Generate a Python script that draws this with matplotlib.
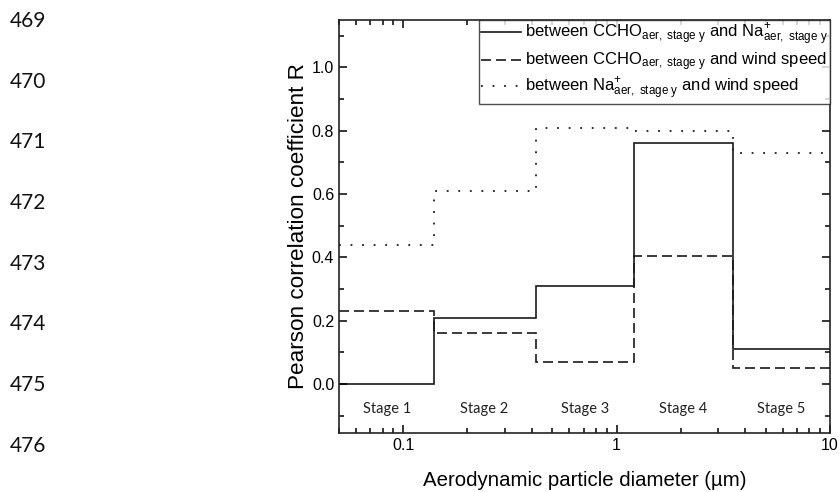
import numpy as np
import matplotlib
matplotlib.use('Agg')
import matplotlib.pyplot as plt
from matplotlib.ticker import MultipleLocator, FixedLocator, NullFormatter

plt.rcParams['font.family'] = ['Liberation Sans', 'DejaVu Sans']
plt.rcParams['mathtext.fontset'] = 'custom'
plt.rcParams['mathtext.rm'] = 'Liberation Sans'
plt.rcParams['mathtext.it'] = 'Liberation Sans:italic'

# impactor stage edges (um)
edges = [0.05, 0.14, 0.42, 1.2, 3.5, 10]
stages = ['Stage 1', 'Stage 2', 'Stage 3', 'Stage 4', 'Stage 5']
stage_centers = [0.084, 0.24, 0.71, 2.05, 5.9]

r_ccho_na = [0.0, 0.21, 0.31, 0.76, 0.11]
r_ccho_wind = [0.23, 0.16, 0.07, 0.405, 0.05]
r_na_wind = [0.44, 0.61, 0.81, 0.80, 0.73]

line_numbers = ['469', '470', '471', '472', '473', '474', '475', '476']

fig = plt.figure(figsize=(8.4, 4.92), dpi=100)
ax = fig.add_axes([0.4036, 0.1199, 0.5845, 0.8394])

col = '#1a1a1a'
ax.stairs(r_ccho_na, edges, baseline=None, color=col, lw=1.2, ls='-',
          label=r'between CCHO$_{\mathrm{aer,\ stage\ y}}$ and Na$^{+}_{\mathrm{aer,\ stage\ y}}$')
ax.stairs(r_ccho_wind, edges, baseline=None, color=col, lw=1.2, ls=(0, (6, 3)),
          label=r'between CCHO$_{\mathrm{aer,\ stage\ y}}$ and wind speed')
ax.stairs(r_na_wind, edges, baseline=None, color=col, lw=1.3, ls=(0, (1, 5.4)),
          label=r'between Na$^{+}_{\mathrm{aer,\ stage\ y}}$ and wind speed')

for name, xc in zip(stages, stage_centers):
    ax.text(xc, -0.08, name, ha='center', va='center', fontsize=10.5,
            family='Lato', color='#222222')

ax.set_xscale('log')
ax.set_xlim(0.05, 10)
ax.set_ylim(-0.155, 1.15)
ax.set_xticks([0.1, 1, 10])
ax.set_xticklabels(['0.1', '1', '10'])
ax.xaxis.set_minor_locator(FixedLocator([0.05, 0.06, 0.07, 0.08, 0.09, 0.2, 0.3, 0.4, 0.5,
                                         0.6, 0.7, 0.8, 0.9, 2, 3, 4, 5, 6, 7, 8, 9]))
ax.xaxis.set_minor_formatter(NullFormatter())
ax.set_yticks([0.0, 0.2, 0.4, 0.6, 0.8, 1.0])
ax.yaxis.set_minor_locator(MultipleLocator(0.1))
ax.tick_params(which='both', direction='in', top=True, right=True, labelsize=11.5, width=1.1)
ax.tick_params(which='major', length=6)
ax.tick_params(which='minor', length=3.5)
for s in ax.spines.values():
    s.set_linewidth(1.2)
    s.set_color('#222222')

ax.set_xlabel('Aerodynamic particle diameter (µm)', fontsize=14.7, labelpad=13)
ax.set_ylabel('Pearson correlation coefficient R', fontsize=16.2, labelpad=2)

leg = ax.legend(loc='upper right', fontsize=12, frameon=True, fancybox=False,
                borderaxespad=0, handlelength=2.4, handletextpad=0.25,
                borderpad=0.12, labelspacing=0.14)
leg.get_frame().set_edgecolor('#222222')
leg.get_frame().set_linewidth(1.0)

for i, t in enumerate(line_numbers):
    fig.text(10 / 840, 1 - (20.8 + 60.7 * i) / 492, t, ha='left', va='center',
             fontsize=15, family='Lato', color='#111111')

fig.savefig('out.png', dpi=100)
